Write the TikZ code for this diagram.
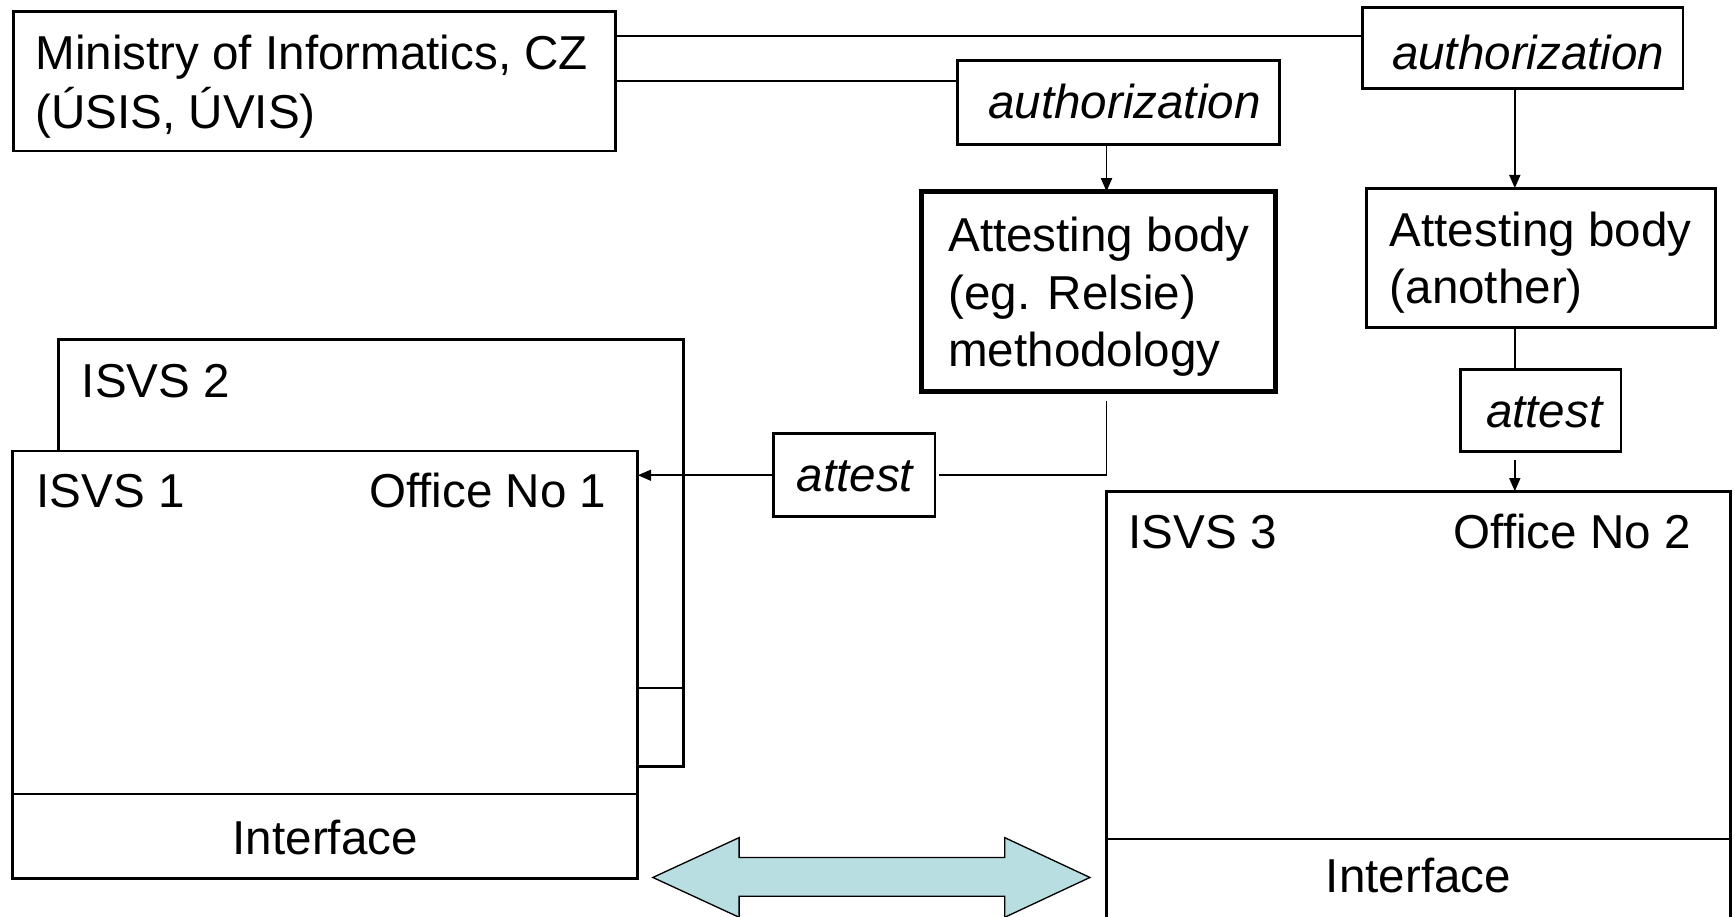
\documentclass[tikz,border=0pt]{standalone}
\usepackage{fontspec}
\setmainfont{Liberation Sans}
\usetikzlibrary{arrows.meta}
\tikzset{
  box/.style={draw, line width=1.3pt, fill=white, inner sep=0pt, outer sep=0pt},
  thickbox/.style={box, line width=2.4pt},
  txt/.style={inner sep=0pt, outer sep=0pt, font=\fontsize{21.5pt}{26pt}\selectfont},
  itxt/.style={txt, font=\fontsize{21.5pt}{26pt}\selectfont\itshape},
  conn/.style={line width=0.75pt},
  arr/.style={conn, -{Triangle[length=6pt,width=5pt]}},
}
\definecolor{arrowblue}{RGB}{185,222,226}
\begin{document}
\begin{tikzpicture}[x=0.5pt,y=-0.5pt]
\useasboundingbox (0,0) rectangle (1568,828);
\clip (0,0) rectangle (1568,828);
\fill[white] (0,0) rectangle (1568,828);

% boxes
\node[box, minimum width=272pt, minimum height=63pt] (min) at (284,73.5) {};
\node[box, minimum width=145.5pt, minimum height=37.75pt] (auth1) at (1010.5,92.75) {};
\node[box, minimum width=145pt, minimum height=36.7pt] (auth2) at (1376,43.3) {};
\node[thickbox, minimum width=160pt, minimum height=90.5pt] (ab1) at (993,263.5) {};
\node[box, minimum width=157.5pt, minimum height=63pt] (ab2) at (1392.5,233) {};
\node[box, minimum width=72.5pt, minimum height=37pt] (att2) at (1392.5,371) {};
\node[box, minimum width=73pt, minimum height=37.5pt] (att1) at (772,429.5) {};
\node[box, minimum width=282.5pt, minimum height=193pt] (isvs2) at (335.5,500) {};
\node[box, minimum width=282.5pt, minimum height=193pt] (isvs1) at (294,600.6) {};
\node[box, minimum width=282pt, minimum height=228pt] (isvs3) at (1282,672) {};

% texts
\node[txt, anchor=base west] (tmin1) at (32,63) {Ministry of Informatics, CZ};
\node[txt, anchor=base west] (tmin2) at (32,116) {(ÚSIS, ÚVIS)};
\node[itxt, anchor=base west] (tauth1) at (893,107) {authorization};
\node[itxt, anchor=base west] (tauth2) at (1258,63) {authorization};
\node[txt, anchor=base west] (tab1a) at (857,227.5) {Attesting body};
\node[txt, anchor=base west] (tab1b) at (857,280) {(eg. Relsie)};
\node[txt, anchor=base west] (tab1c) at (857,331.5) {methodology};
\node[txt, anchor=base west] (tab2a) at (1256,223) {Attesting body};
\node[txt, anchor=base west] (tab2b) at (1256,274) {(another)};
\node[itxt, anchor=base west] (tatt2) at (1343,386) {attest};
\node[itxt, anchor=base west] (tatt1) at (720,444.6) {attest};
\node[txt, anchor=base west] (tisvs2) at (74,359) {ISVS 2};
\node[txt, anchor=base west] (tisvs1) at (33,459) {ISVS 1};
\node[txt, anchor=base east] (toff1) at (548,459) {Office No 1};
\node[txt, anchor=base west] (tisvs3) at (1020,496) {ISVS 3};
\node[txt, anchor=base east] (toff2) at (1528,496) {Office No 2};
\node[txt, anchor=base] (tif1) at (294,772) {Interface};
\node[txt, anchor=base] (tif3) at (1282,807) {Interface};

% helper coordinates
\coordinate (x1) at (1000,0);
\coordinate (x2) at (1369,0);
\coordinate (m1) at ([yshift=20.45pt]min.east);
\coordinate (ab1s) at ([yshift=-4pt]ab1.south -| x1);
\coordinate (att2s) at ([yshift=-4pt]att2.south -| x2);
\coordinate (sl) at (0,621.5);
\coordinate (if1) at (0,717.6);
\coordinate (if3) at (0,758);

% connectors
\draw[conn] (m1) -- (m1 -| auth2.west);
\draw[conn] (min.east) -- (min.east -| auth1.west);
\draw[arr] (auth1.south -| x1) -- (ab1.north -| x1);
\draw[arr] (auth2.south -| x2) -- (ab2.north -| x2);
\draw[conn] (ab2.south -| x2) -- (att2.north -| x2);
\draw[arr] (att2s) -- (isvs3.north -| x2);
\draw[conn] (ab1s) |- ([xshift=2pt]att1.east);
\draw[arr] (att1.west) -- (att1.west -| isvs1.east);

% inner lines
\draw[conn] (sl -| isvs1.east) -- (sl -| isvs2.east);
\draw[conn] (if1 -| isvs1.west) -- (if1 -| isvs1.east);
\draw[conn] (if3 -| isvs3.west) -- (if3 -| isvs3.east);

% double arrow between interfaces
\draw[conn, line width=0.6pt, fill=arrowblue, line join=miter]
  (590,793) -- (668,757) -- (668,775) -- (908,775) -- (908,757) -- (985,793)
  -- (908,829) -- (908,810) -- (668,810) -- (668,829) -- cycle;
\end{tikzpicture}
\end{document}
